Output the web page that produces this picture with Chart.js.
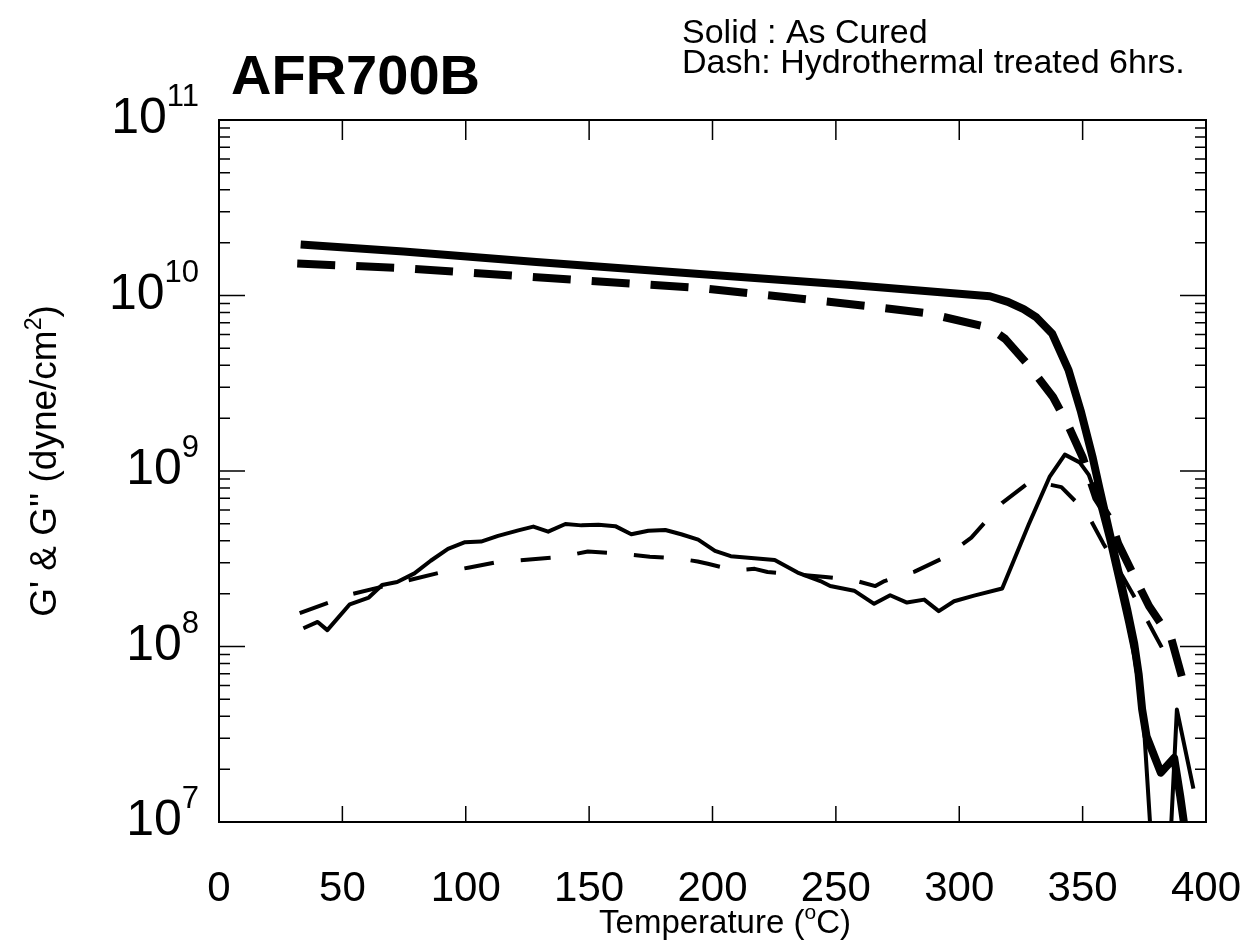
<!DOCTYPE html>
<html>
<head>
<meta charset="utf-8">
<script src="https://cdn.jsdelivr.net/npm/chart.js@4.4.1/dist/chart.umd.min.js"></script>
<style>
  html, body { margin: 0; padding: 0; background: #ffffff; }
  canvas { display: block; }
</style>
</head>
<body>
<canvas id="chart" width="1257" height="943"></canvas>
<script>
// Storage modulus G', as cured (solid, heavy)
const storageCuredTemp = [33.1, 74.8, 128.6, 196.1, 255, 312.4, 319.7, 326.1, 331.3, 337.7, 344.3, 349.2, 354.1, 356.8, 360.5, 364.2, 368.0, 370.9, 372.7, 374.1, 375.9, 381.7, 387.1, 389.6, 393];
const storageCured = [1.95e10, 1.78e10, 1.55e10, 1.32e10, 1.15e10, 9.9e9, 9.2e9, 8.36e9, 7.5e9, 6.05e9, 3.76e9, 2.21e9, 1.19e9, 8.0e8, 4.72e8, 2.79e8, 1.64e8, 1.04e8, 6.97e7, 4.4e7, 3.08e7, 1.91e7, 2.32e7, 1.39e7, 6.3e6];

// Storage modulus G', hydrothermal treated 6 hrs (dashed, heavy)
const storageWetTemp = [31.7, 71.4, 143.5, 196.1, 263.3, 287.5, 312.2, 318.6, 328.5, 338.0, 343.9, 350.1, 355.5, 361.3, 364.4, 371.4, 376.9, 386.0, 392.4];
const storageWet = [1.52e10, 1.44e10, 1.23e10, 1.10e10, 8.7e9, 7.9e9, 6.56e9, 5.66e9, 3.94e9, 2.64e9, 1.85e9, 1.19e9, 7.03e8, 5.25e8, 3.86e8, 2.43e8, 1.70e8, 1.10e8, 5.2e7];

// Loss modulus G'', as cured (solid, light)
const lossCuredTemp = [34.2, 40.0, 43.9, 53.0, 60.7, 66.1, 72.2, 79.2, 85.8, 92.8, 99.7, 106.2, 113.1, 121.3, 127.4, 133.4, 140.4, 146.9, 153.8, 160.6, 167.1, 174.0, 180.9, 187.3, 194.2, 201.0, 207.4, 225.2, 234.5, 243.7, 247.7, 257.4, 265.5, 272.0, 278.8, 285.8, 291.7, 297.9, 306.0, 317.4, 328.1, 336.6, 342.8, 348.8, 352.5, 356.5, 360.2, 364.0, 368.0, 371.0, 373.5, 375.1, 377.3, 380.0, 385.6, 388.2, 394.9];
const lossCured = [1.27e8, 1.38e8, 1.24e8, 1.74e8, 1.90e8, 2.24e8, 2.33e8, 2.61e8, 3.08e8, 3.60e8, 3.93e8, 3.96e8, 4.27e8, 4.59e8, 4.82e8, 4.51e8, 4.99e8, 4.90e8, 4.94e8, 4.85e8, 4.36e8, 4.57e8, 4.61e8, 4.36e8, 4.06e8, 3.51e8, 3.27e8, 3.11e8, 2.64e8, 2.36e8, 2.21e8, 2.08e8, 1.75e8, 1.96e8, 1.78e8, 1.85e8, 1.59e8, 1.81e8, 1.95e8, 2.14e8, 4.94e8, 9.25e8, 1.24e9, 1.12e9, 9.5e8, 6.6e8, 4.17e8, 2.45e8, 1.38e8, 8.7e7, 5.2e7, 3.08e7, 1.0e7, 2.5e6, 7.9e6, 4.37e7, 1.55e7];

// Loss modulus G'', hydrothermal treated 6 hrs (dashed, light)
const lossWetTemp = [32.7, 53.9, 89.3, 101.5, 112.9, 125.9, 138.1, 149.5, 160.8, 174.6, 185.9, 194.0, 198.1, 209.0, 217.1, 222.3, 234.5, 245.8, 256.7, 266.0, 269.7, 281.9, 294.2, 304.9, 317.3, 329.2, 341.4, 351.7, 358.3, 366.2, 373.3, 378.7, 385.8];
const lossWet = [1.55e8, 1.99e8, 2.63e8, 2.82e8, 3.03e8, 3.13e8, 3.23e8, 3.48e8, 3.40e8, 3.25e8, 3.18e8, 3.05e8, 2.96e8, 2.72e8, 2.77e8, 2.66e8, 2.57e8, 2.49e8, 2.40e8, 2.21e8, 2.36e8, 2.67e8, 3.23e8, 4.17e8, 6.56e8, 8.81e8, 8.09e8, 5.78e8, 3.88e8, 2.51e8, 1.68e8, 1.21e8, 7.89e7];

// Axis tick labels
const xTickValues = [0, 50, 100, 150, 200, 250, 300, 350, 400];
const yDecadeExponents = [7, 8, 9, 10, 11];

const FONT = "'Liberation Sans', Arial, Helvetica, sans-serif";

function points(xs, ys) {
  return xs.map((x, i) => ({ x: x, y: ys[i] }));
}

function lineSet(label, xs, ys, width, dash) {
  return {
    label: label,
    data: points(xs, ys),
    showLine: true,
    borderColor: '#000000',
    backgroundColor: '#000000',
    borderWidth: width,
    borderDash: dash,
    borderCapStyle: 'butt',
    borderJoinStyle: 'round',
    pointRadius: 0,
    pointHoverRadius: 0,
    tension: 0,
    fill: false
  };
}

// Text runs with superscripts: parts = [[text, isSup], ...]
function partsWidth(ctx, parts, size, supSize) {
  let w = 0;
  parts.forEach(([t, sup]) => {
    ctx.font = (sup ? supSize : size) + 'px ' + FONT;
    w += ctx.measureText(t).width;
  });
  return w;
}
function drawParts(ctx, parts, x, baseline, size, supSize, supRise) {
  let cx = x;
  parts.forEach(([t, sup]) => {
    ctx.font = (sup ? supSize : size) + 'px ' + FONT;
    ctx.fillText(t, cx, sup ? baseline - supRise : baseline);
    cx += ctx.measureText(t).width;
  });
}

const frameAndLabels = {
  id: 'frameAndLabels',
  afterDatasetsDraw(chart) {
    const { ctx, chartArea: a, scales } = chart;
    const xs = scales.x, ys = scales.y;
    ctx.save();
    ctx.strokeStyle = '#000000';
    ctx.fillStyle = '#000000';

    // plot frame
    ctx.lineWidth = 2;
    ctx.strokeRect(a.left, a.top, a.right - a.left, a.bottom - a.top);

    // inward tick marks
    ctx.lineWidth = 1.5;
    ctx.beginPath();
    xTickValues.forEach(v => {
      if (v <= xs.min || v >= xs.max) return;
      const px = xs.getPixelForValue(v);
      ctx.moveTo(px, a.top); ctx.lineTo(px, a.top + 20);
      ctx.moveTo(px, a.bottom); ctx.lineTo(px, a.bottom - 16);
    });
    yDecadeExponents.forEach(e => {
      for (let m = 1; m <= 9; m++) {
        const v = m * Math.pow(10, e);
        if (v < ys.min || v > ys.max) continue;
        const py = ys.getPixelForValue(v);
        const len = m === 1 ? 26 : 11;
        ctx.moveTo(a.left, py); ctx.lineTo(a.left + len, py);
        ctx.moveTo(a.right, py); ctx.lineTo(a.right - len, py);
      }
    });
    ctx.stroke();

    // x tick labels
    ctx.textAlign = 'center';
    ctx.textBaseline = 'alphabetic';
    ctx.font = '42px ' + FONT;
    xTickValues.forEach(v => {
      ctx.fillText(String(v), xs.getPixelForValue(v), a.bottom + 79);
    });

    // y tick labels 10^n
    ctx.textAlign = 'left';
    yDecadeExponents.forEach(e => {
      const py = ys.getPixelForValue(Math.pow(10, e));
      const parts = [['10', false], [String(e), true]];
      const w = partsWidth(ctx, parts, 50, 31);
      drawParts(ctx, parts, a.left - 20 - w, py + 13, 50, 31, 27);
    });

    // x axis title
    const xt = [['Temperature (', false], ['o', true], ['C)', false]];
    const xtw = partsWidth(ctx, xt, 33, 21);
    drawParts(ctx, xt, 725 - xtw / 2, 933, 33, 21, 14);

    // y axis title
    ctx.save();
    ctx.translate(56, 461);
    ctx.rotate(-Math.PI / 2);
    const yt = [["G' & G'' (dyne/cm", false], ['2', true], [')', false]];
    const ytw = partsWidth(ctx, yt, 37, 23);
    drawParts(ctx, yt, -ytw / 2, 0, 37, 23, 15);
    ctx.restore();

    // chart heading and line-style key
    ctx.font = 'bold 56px ' + FONT;
    ctx.fillText('AFR700B', 231, 94);
    ctx.font = '34px ' + FONT;
    ctx.fillText('Solid : As Cured', 682, 43);
    ctx.fillText('Dash: Hydrothermal treated 6hrs.', 682, 73);

    ctx.restore();
  }
};

new Chart(document.getElementById('chart'), {
  type: 'scatter',
  data: {
    datasets: [
      lineSet("G' as cured", storageCuredTemp, storageCured, 8, []),
      lineSet("G' hydrothermal 6 hrs", storageWetTemp, storageWet, 8, [38, 21]),
      lineSet("G'' as cured", lossCuredTemp, lossCured, 4, []),
      lineSet("G'' hydrothermal 6 hrs", lossWetTemp, lossWet, 4, [30, 27])
    ]
  },
  options: {
    responsive: false,
    animation: false,
    events: [],
    layout: { padding: { left: 219, right: 51, top: 120, bottom: 121 } },
    plugins: {
      legend: { display: false },
      tooltip: { enabled: false },
      title: { display: false }
    },
    scales: {
      x: { type: 'linear', display: false, min: 0, max: 400 },
      y: { type: 'logarithmic', display: false, min: 1e7, max: 1e11 }
    }
  },
  plugins: [frameAndLabels]
});
</script>
</body>
</html>
